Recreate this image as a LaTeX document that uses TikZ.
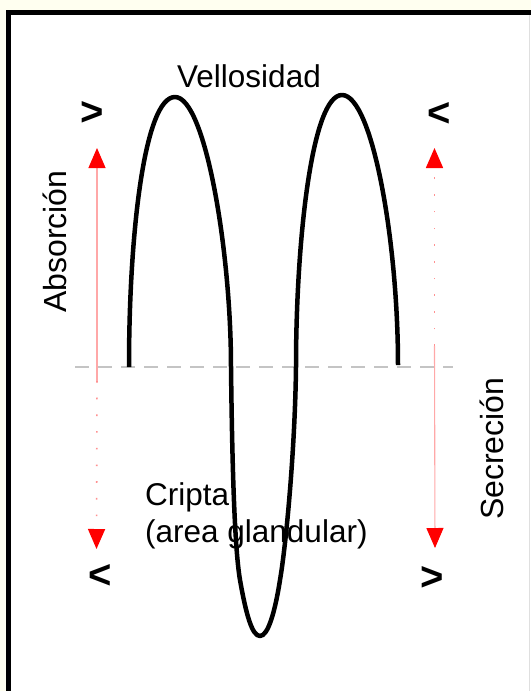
\documentclass[tikz,border=0pt]{standalone}
\usepackage{fontspec}
\setmainfont{Liberation Sans}
\usetikzlibrary{arrows.meta}
\definecolor{cream}{HTML}{FFFFF0}
\definecolor{pinkline}{HTML}{FFA8A8}
\definecolor{pinkdot}{HTML}{FF9090}
\definecolor{dashgray}{HTML}{C4C4C4}
\tikzset{
  lbl/.style={inner sep=0pt, font=\fontsize{31.5}{36}\selectfont},
  rlbl/.style={inner sep=0pt, rotate=90, anchor=base west, font=\fontsize{32}{38}\selectfont},
  chev/.style={inner sep=0pt, font=\fontsize{40}{40}\selectfont\bfseries},
  redtip/.style={-{Triangle[length=20pt,width=17pt,color=red]}},
  flowsolid/.style={pinkline, line width=1.1pt, redtip},
  flowdot/.style={pinkdot, line width=1.6pt, dash pattern=on 1.6pt off 15.1pt, redtip},
  villus/.style={line width=4.5pt, line cap=butt, line join=round}
}
\begin{document}
\begin{tikzpicture}[x=1pt,y=-1pt]
\useasboundingbox (0,0) rectangle (531,691);
% background and frame
\fill[cream] (0,0) rectangle (531,691);
\fill[white] (8.5,12.5) rectangle (531,691);
\draw[gray!25, line width=1pt] (529.5,14) -- (529.5,691);
\draw[line width=5pt] (8.5,691) -- (8.5,12.5) -- (531,12.5);
% baseline (dashed)
\coordinate (dl) at (75,367);
\coordinate (dr) at (453,367);
\draw[dashgray, line width=1.2pt, dash pattern=on 14pt off 9pt] (dl) -- (dr);
% left arrows
\coordinate (Lmid) at (97,381);
\coordinate (Ltop) at (97,148);
\coordinate (Lbot) at (96.5,549);
\draw[flowsolid] (Lmid) -- (Ltop);
\draw[flowdot] (Lmid) -- (Lbot);
% right arrows
\coordinate (Rmid) at (434.5,346);
\coordinate (Rtop) at (434.5,148);
\coordinate (Rbot) at (435,548);
\draw[flowdot] (Rmid) -- (Rtop);
\draw[flowsolid] (Rmid) -- (Rbot);
% villus / crypt curve
\coordinate (v0) at (129,367);
\coordinate (p1) at (175,97);
\coordinate (x1) at (231,367);
\coordinate (k1) at (240,580);
\coordinate (tr) at (260,636);
\coordinate (k2) at (280,580);
\coordinate (x2) at (296,367);
\coordinate (p2) at (342,95);
\coordinate (v1) at (398,365);
\draw[villus] (v0) .. controls (129,230) and (145,97) .. (p1)
  .. controls (205,97) and (231,250) .. (x1)
  .. controls (232,450) and (234,545) .. (k1)
  .. controls (246,614) and (252,636) .. (tr)
  .. controls (268,636) and (275,612) .. (k2)
  .. controls (286,545) and (295,450) .. (x2)
  .. controls (296,240) and (312,95) .. (p2)
  .. controls (372,95) and (398,240) .. (v1);
% labels
\node[lbl, anchor=base west] (vel) at (177,87) {Vellosidad};
\node[rlbl] (abs) at (66,313) {Absorción};
\node[rlbl] (sec) at (503,520) {Secreción};
\node[lbl, anchor=base west] (cri) at (145,505) {Cripta};
\node[lbl, anchor=base west] (are) at (145,542) {(area glandular)};
% comparison signs
\node[chev] (c1) at (92,113) {>};
\node[chev] (c2) at (439,114) {<};
\node[chev] (c3) at (100,576) {<};
\node[chev] (c4) at (432,578) {>};
\end{tikzpicture}
\end{document}
